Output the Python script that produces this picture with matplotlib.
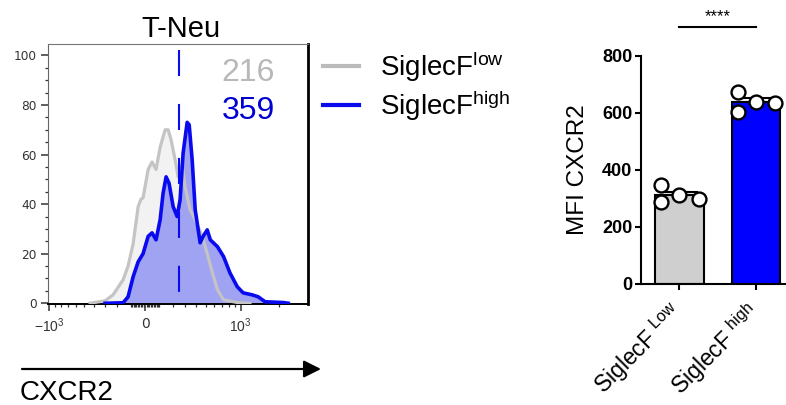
import numpy as np
import matplotlib
matplotlib.use("Agg")
import matplotlib.pyplot as plt
from matplotlib.lines import Line2D

# --- histogram data (CXCR2 intensity vs normalised count) ---
low_cxcr2 = [-439, -298, -232, -155, -119, -83, -62, -48, -28, -14, 21, 48, 76, 105, 141, 163,
             185, 216, 240, 273, 298, 342, 390, 460, 515, 575, 639, 722, 937, 1187]
low_count = [0, 1, 3.4, 9.5, 15, 24, 33, 39, 42, 42.5, 54, 57, 54, 63, 70, 70,
             66, 58, 51, 56, 47, 37.7, 33.7, 27, 20, 12.3, 5.4, 1.4, 0.3, 0]

high_cxcr2 = [-298, -155, -119, -83, -48, -14, 21, 48, 76, 105, 126, 148, 170, 201, 232, 256,
              281, 316, 334, 361, 390, 439, 470, 515, 550, 639, 722, 816, 937, 1046,
              1234, 1376, 1557, 2136, 2340]
high_count = [0, 0.2, 2.6, 10.7, 16.7, 20, 27, 28.4, 25.6, 33.7, 44.4, 51, 48.4, 39, 35, 41.7,
              60.5, 73, 72, 58, 37.7, 24.4, 27, 29.6, 25.6, 22.8, 18.8, 12.3, 6.7, 4.2,
              3.4, 2.6, 0.6, 0.3, 0]

gate_x = 245
mfi_labels = ["216", "359"]

# --- bar chart data ---
groups = ["SiglecF $^{\\rm Low}$", "SiglecF $^{\\rm high}$"]
mfi_low = [347, 286, 312, 297]
mfi_high = [674, 604, 639, 633]
dot_offsets = [-0.24, -0.24, 0.0, 0.25]
bar_yticks = [0, 200, 400, 600, 800]

grey_line = "#c4c4c4"
grey_fill = "#f2f2f2"
blue_line = "#0a0aee"
blue_fill = "#a0a2f2"

plt.rcParams["font.family"] = ["Liberation Sans", "DejaVu Sans"]
plt.rcParams["mathtext.fontset"] = "custom"
plt.rcParams["mathtext.rm"] = "Liberation Sans"
plt.rcParams["mathtext.it"] = "Liberation Sans:italic"
plt.rcParams["mathtext.bf"] = "Liberation Sans:bold"

W, H = 786, 405
fig = plt.figure(figsize=(W / 100, H / 100), dpi=100)


def fx(px):
    return px / W


def fy(py):
    return 1 - py / H


# ---------------- histogram ----------------
ax = fig.add_axes([fx(48), fy(304), 260 / W, 260 / H])
c = 400.0
ax.set_xscale("function", functions=(lambda v: np.arcsinh(np.asarray(v) / c),
                                     lambda v: c * np.sinh(np.asarray(v))))
ax.set_xlim(-1028, 3300)
ax.set_ylim(-0.3, 104.6)

ax.fill_between(low_cxcr2, low_count, 0, color=grey_fill, lw=0, zorder=1)
ax.fill_between(high_cxcr2, high_count, 0, color=blue_fill, lw=0, zorder=2)
ax.plot(low_cxcr2, low_count, color=grey_line, lw=2.3, zorder=3, solid_joinstyle="round")
ax.plot(high_cxcr2, high_count, color=blue_line, lw=2.6, zorder=4, solid_joinstyle="round")
ax.plot([gate_x, gate_x], [102, 4.2], color=blue_line, lw=1.5,
        linestyle=(0, (12.5, 13.4)), zorder=5)

ax.text(0.873, 0.888, mfi_labels[0], transform=ax.transAxes, ha="right", va="center",
        fontsize=23, color="#b8b8b8")
ax.text(0.873, 0.742, mfi_labels[1], transform=ax.transAxes, ha="right", va="center",
        fontsize=23, color="#0000d0")

xmajor = [-1000, 0, 1000]
xminor = ([-v for v in range(100, 1000, 100)] + list(range(100, 1000, 100))
          + [-v for v in range(10, 100, 10)] + list(range(10, 100, 10)) + [2000])
ax.set_xticks(xmajor)
ax.set_xticklabels(["$-10^3$", "0", "$10^3$"])
ax.set_xticks(xminor, minor=True)
ax.set_yticks(range(0, 101, 20))
ax.set_yticks(range(0, 101, 5), minor=True)
ax.tick_params(axis="both", which="major", length=5, width=1.1, color="#333333",
               labelsize=8.7, labelcolor="#333333", pad=3)
ax.tick_params(axis="x", which="major", labelsize=10, pad=4)
ax.tick_params(axis="both", which="minor", length=2.5, width=0.9, color="#333333")
for lab in ax.get_yticklabels() + ax.get_xticklabels():
    lab.set_family("DejaVu Sans")
ax.spines["left"].set_color("#666666")
ax.spines["top"].set_color("#777777")
ax.spines["right"].set_color("black")
ax.spines["right"].set_linewidth(2)
ax.spines["bottom"].set_color("black")
ax.spines["bottom"].set_linewidth(1.4)

fig.text(fx(181), fy(37), "T-Neu", ha="center", va="baseline", fontsize=21)

handles = [Line2D([], [], color="#bbbbbb", lw=3),
           Line2D([], [], color=blue_line, lw=3)]
fig.legend(handles, ["SiglecF$^{\\rm low}$", "SiglecF$^{\\rm high}$"], loc="upper left",
           bbox_to_anchor=(fx(323), fy(49)), frameon=False, fontsize=20,
           handlelength=1.3, handletextpad=0.75, labelspacing=0.18,
           borderpad=0, borderaxespad=0)

ax.annotate("", xy=(fx(321), fy(369)), xytext=(fx(22), fy(369)), xycoords="figure fraction",
            arrowprops=dict(arrowstyle="-|>", lw=1.6, color="black", mutation_scale=26,
                            shrinkA=0, shrinkB=0))
fig.text(fx(20), fy(400), "CXCR2", ha="left", va="baseline", fontsize=20)

# ---------------- bar chart ----------------
bx = fig.add_axes([fx(640.7), fy(284), (W - 640.7) / W, 228.3 / H])
values = [mfi_low, mfi_high]
colors = ["#cfcfcf", "#0000ff"]
for i, (vals, col) in enumerate(zip(values, colors)):
    vals = np.array(vals, dtype=float)
    mean = vals.mean()
    sem = vals.std(ddof=1) / np.sqrt(len(vals))
    bx.bar(i, mean, width=0.64, color=col, edgecolor="black", lw=1.5, zorder=2)
    bx.errorbar(i, mean, yerr=[[0], [sem]], color="black", lw=1.5, capsize=14,
                capthick=1.5, zorder=3)
    bx.scatter(i + np.array(dot_offsets), vals, s=100, facecolor="white",
               edgecolor="black", lw=1.7, zorder=4)

bx.set_xlim(-0.507, 1.392)
bx.set_ylim(0, 800)
bx.set_yticks(bar_yticks)
bx.set_xticks([0, 1])
bx.set_xticklabels(groups, rotation=45, ha="right", va="center", rotation_mode="anchor",
                   fontsize=16.5)
bx.tick_params(axis="y", length=4, width=1.5, pad=2, labelsize=13)
bx.tick_params(axis="x", length=4, width=1.5, pad=14)
for lab in bx.get_yticklabels():
    lab.set_fontweight("bold")
bx.spines["top"].set_visible(False)
bx.spines["right"].set_visible(False)
bx.spines["left"].set_linewidth(1.5)
bx.spines["bottom"].set_linewidth(1.5)
bx.set_ylabel("MFI CXCR2", fontsize=17.5)
bx.yaxis.set_label_coords(-0.356, 0.5)

bx.plot([0, 1], [900, 900], color="black", lw=1.5, clip_on=False)
bx.text(0.5, 910, "****", ha="center", va="bottom", fontsize=12, clip_on=False)

fig.savefig("out.png", dpi=100)
